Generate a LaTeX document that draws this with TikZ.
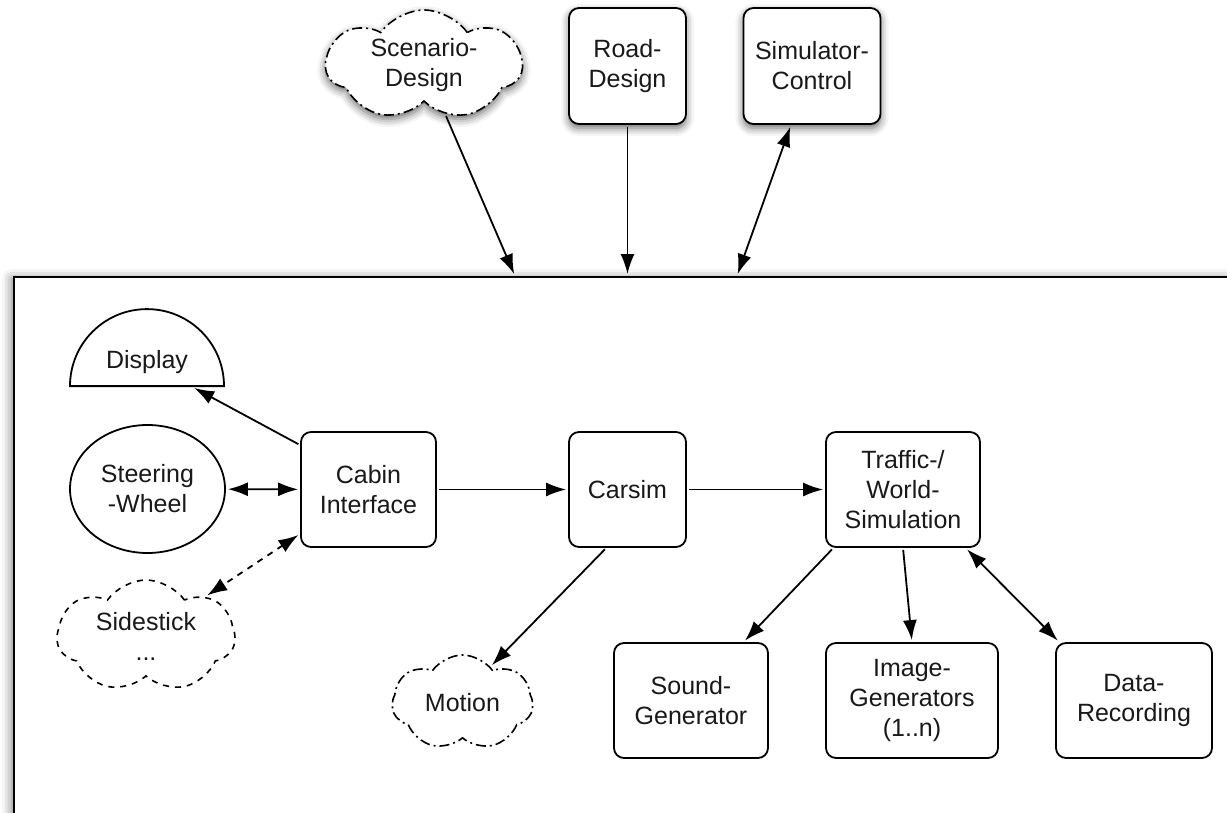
\documentclass[tikz,border=0pt]{standalone}
\usepackage{fontspec}
\setmainfont{Liberation Sans}
\usetikzlibrary{
arrows.meta,
shapes.geometric,
shapes.symbols,
shadows.blur,
}
\tikzset{
outer sep=auto,
every node/.style={align=center, font=\fontsize{12.5}{15}\selectfont, text=black!90},
process/.style={rectangle, rounded corners=5pt, draw, line width=0.9pt, minimum height=57.5pt, fill=white},
idea/.style={cloud, cloud puffs=7, cloud puff arc=110, aspect=1.8, draw, line width=0.8pt, fill=white, inner sep=0pt},
screen/.style={semicircle, draw, line width=0.9pt, minimum width=77pt, inner sep=0pt},
wheel/.style={ellipse, draw, line width=0.9pt, minimum width=77.5pt, minimum height=64pt, inner sep=0pt},
frame/.style={rectangle, draw, line width=1pt, fill=white, anchor=north west},
dashdot/.style={dash pattern=on 5pt off 2pt on 1pt off 2pt},
shade/.style={blur shadow={shadow xshift=0pt, shadow yshift=-2pt, shadow blur radius=4pt, shadow opacity=60}},
>={Latex[length=10pt,width=7pt]},
link/.style={->, line width=0.9pt, shorten >=1pt, shorten <=1pt},
}

\begin{document}
\begin{tikzpicture}[x=0.5pt, y=-0.5pt]
    \useasboundingbox (0,0) rectangle (1227,813);
    % outer tools
    \node [idea, dashdot, shade, minimum width=98pt, minimum height=55pt] (scen) at (424,65) {Scenario-\\Design};
    \node [process, shade, minimum width=58.5pt, minimum height=58pt] (road) at (627.5,66) {Road-\\Design};
    \node [process, shade, minimum width=68.5pt, minimum height=58pt] (ctrl) at (812,66) {Simulator-\\Control};
    % simulator frame
    \node [frame, blur shadow={shadow xshift=-1pt, shadow yshift=-1pt, shadow blur radius=5pt, shadow opacity=55},
        minimum width=620pt, minimum height=290pt] (sim) at (13,276) {};
    \coordinate (scenin) at (515,276);
    \coordinate (ctrlin) at (737,276);
    % cabin side
    \node [screen, anchor=chord center] (disp) at (147,387) {Display};
    \node [wheel] (steer) at (147.5,489) {Steering\\-Wheel};
    \node [idea, dashed, minimum width=89pt, minimum height=56pt] (side) at (146,636) {Sidestick\\...};
    \node [process, minimum width=67.5pt] (cabin) at (368.5,489.5) {Cabin\\Interface};
    \node [process, minimum width=58.5pt] (carsim) at (627.5,489.5) {Carsim};
    \node [idea, dashdot, minimum width=70.5pt, minimum height=47.5pt] (motion) at (462.5,702.5) {Motion};
    % world side
    \node [process, minimum width=77pt] (world) at (903,489.5) {Traffic-/\\World-\\Simulation};
    \node [process, minimum width=77pt] (sound) at (691,700.5) {Sound-\\Generator};
    \node [process, minimum width=86pt] (image) at (912,700.5) {Image-\\Generators\\(1..n)};
    \node [process, minimum width=78pt] (rec) at (1134,700.5) {Data-\\Recording};

    \draw [link] (scen) -- (scenin);
    \draw [link] (road) -- (road |- sim.north);
    \draw [link, <->] (ctrl) -- (ctrlin);
    \draw [link] (cabin.147) -- (disp);
    \draw [link, <->] (steer) -- (cabin);
    \draw [link, <->, dashed] (cabin.213) -- (side);
    \draw [link] (cabin) -- (carsim);
    \draw [link] (carsim) -- (world);
    \draw [link] (carsim.250) -- (motion.52);
    \draw [link] (world.220) -- (sound.48);
    \draw [link] (world.south) -- (image.north);
    \draw [link, <->] (world.317) -- (rec.142);
\end{tikzpicture}
\end{document}
